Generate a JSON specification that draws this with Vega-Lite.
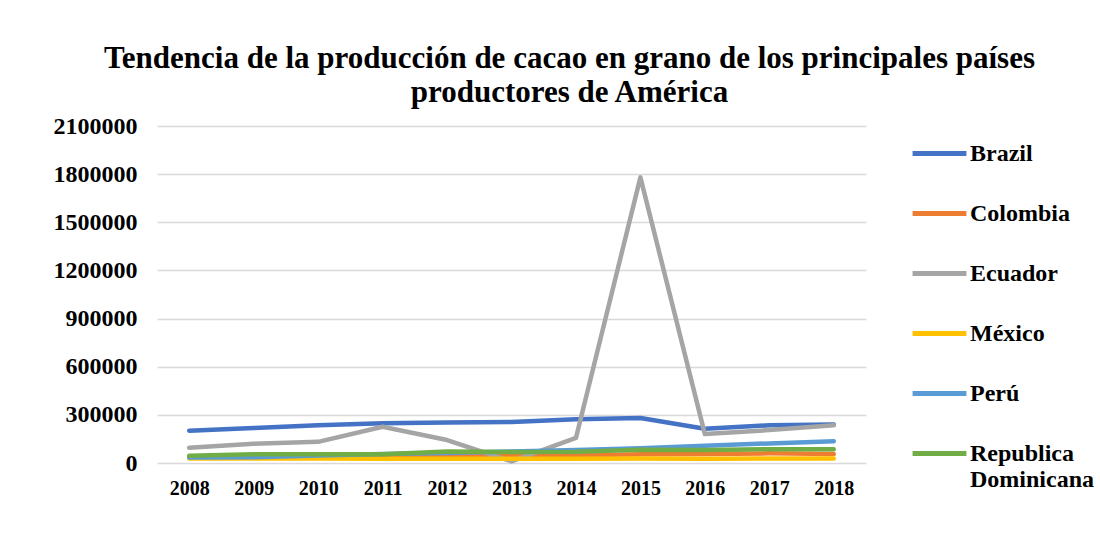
{
  "$schema": "https://vega.github.io/schema/vega-lite/v6.json",
  "width": 709,
  "height": 337,
  "autosize": {"type": "none"},
  "padding": {"left": 157, "top": 126, "right": 234, "bottom": 84},
  "background": "white",
  "title": {
    "text": ["Tendencia de la producción de cacao en grano de los principales países", "productores de América"],
    "font": "Liberation Serif",
    "fontSize": 31,
    "fontWeight": "bold",
    "color": "#000000",
    "lineHeight": 34,
    "anchor": "middle",
    "frame": "group",
    "dx": 58,
    "offset": 5
  },
  "data": {
    "values": [
      {"year": "2008", "country": "Brazil", "value": 201000},
      {"year": "2009", "country": "Brazil", "value": 218000},
      {"year": "2010", "country": "Brazil", "value": 235000},
      {"year": "2011", "country": "Brazil", "value": 248000},
      {"year": "2012", "country": "Brazil", "value": 253000},
      {"year": "2013", "country": "Brazil", "value": 256000},
      {"year": "2014", "country": "Brazil", "value": 273000},
      {"year": "2015", "country": "Brazil", "value": 280000},
      {"year": "2016", "country": "Brazil", "value": 214000},
      {"year": "2017", "country": "Brazil", "value": 235000},
      {"year": "2018", "country": "Brazil", "value": 240000},
      {"year": "2008", "country": "Colombia", "value": 37000},
      {"year": "2009", "country": "Colombia", "value": 40000},
      {"year": "2010", "country": "Colombia", "value": 40000},
      {"year": "2011", "country": "Colombia", "value": 37000},
      {"year": "2012", "country": "Colombia", "value": 42000},
      {"year": "2013", "country": "Colombia", "value": 46000},
      {"year": "2014", "country": "Colombia", "value": 47000},
      {"year": "2015", "country": "Colombia", "value": 54000},
      {"year": "2016", "country": "Colombia", "value": 56000},
      {"year": "2017", "country": "Colombia", "value": 60000},
      {"year": "2018", "country": "Colombia", "value": 56000},
      {"year": "2008", "country": "Ecuador", "value": 95000},
      {"year": "2009", "country": "Ecuador", "value": 120000},
      {"year": "2010", "country": "Ecuador", "value": 132000},
      {"year": "2011", "country": "Ecuador", "value": 226000},
      {"year": "2012", "country": "Ecuador", "value": 143000},
      {"year": "2013", "country": "Ecuador", "value": 10000},
      {"year": "2014", "country": "Ecuador", "value": 156000},
      {"year": "2015", "country": "Ecuador", "value": 1780000},
      {"year": "2016", "country": "Ecuador", "value": 180000},
      {"year": "2017", "country": "Ecuador", "value": 205000},
      {"year": "2018", "country": "Ecuador", "value": 235000},
      {"year": "2008", "country": "México", "value": 28000},
      {"year": "2009", "country": "México", "value": 28000},
      {"year": "2010", "country": "México", "value": 28000},
      {"year": "2011", "country": "México", "value": 27000},
      {"year": "2012", "country": "México", "value": 27000},
      {"year": "2013", "country": "México", "value": 27000},
      {"year": "2014", "country": "México", "value": 26000},
      {"year": "2015", "country": "México", "value": 28000},
      {"year": "2016", "country": "México", "value": 26000},
      {"year": "2017", "country": "México", "value": 28000},
      {"year": "2018", "country": "México", "value": 28000},
      {"year": "2008", "country": "Perú", "value": 34000},
      {"year": "2009", "country": "Perú", "value": 36000},
      {"year": "2010", "country": "Perú", "value": 46000},
      {"year": "2011", "country": "Perú", "value": 56000},
      {"year": "2012", "country": "Perú", "value": 62000},
      {"year": "2013", "country": "Perú", "value": 72000},
      {"year": "2014", "country": "Perú", "value": 81000},
      {"year": "2015", "country": "Perú", "value": 92000},
      {"year": "2016", "country": "Perú", "value": 108000},
      {"year": "2017", "country": "Perú", "value": 122000},
      {"year": "2018", "country": "Perú", "value": 135000},
      {"year": "2008", "country": "Republica Dominicana", "value": 45000},
      {"year": "2009", "country": "Republica Dominicana", "value": 55000},
      {"year": "2010", "country": "Republica Dominicana", "value": 54000},
      {"year": "2011", "country": "Republica Dominicana", "value": 55000},
      {"year": "2012", "country": "Republica Dominicana", "value": 72000},
      {"year": "2013", "country": "Republica Dominicana", "value": 68000},
      {"year": "2014", "country": "Republica Dominicana", "value": 70000},
      {"year": "2015", "country": "Republica Dominicana", "value": 82000},
      {"year": "2016", "country": "Republica Dominicana", "value": 81000},
      {"year": "2017", "country": "Republica Dominicana", "value": 86000},
      {"year": "2018", "country": "Republica Dominicana", "value": 85000}
    ]
  },
  "mark": {"type": "line", "strokeWidth": 4.5, "strokeCap": "round", "strokeJoin": "round"},
  "encoding": {
    "x": {
      "field": "year",
      "type": "ordinal",
      "scale": {"type": "point", "padding": 0.5},
      "axis": {
        "title": null,
        "domain": false,
        "ticks": false,
        "grid": false,
        "labelAngle": 0,
        "labelFont": "Liberation Serif",
        "labelFontWeight": "bold",
        "labelFontSize": 20,
        "labelColor": "#000000",
        "labelPadding": 15
      }
    },
    "y": {
      "field": "value",
      "type": "quantitative",
      "scale": {"domain": [0, 2100000], "nice": false},
      "axis": {
        "title": null,
        "values": [0, 300000, 600000, 900000, 1200000, 1500000, 1800000, 2100000],
        "format": "d",
        "domain": false,
        "ticks": false,
        "grid": true,
        "gridColor": "#d9d9d9",
        "gridWidth": 1.5,
        "labelFont": "Liberation Serif",
        "labelFontWeight": "bold",
        "labelFontSize": 24,
        "labelColor": "#000000",
        "labelPadding": 20
      }
    },
    "color": {
      "field": "country",
      "type": "nominal",
      "sort": ["Brazil", "Colombia", "Ecuador", "México", "Perú", "Republica Dominicana"],
      "scale": {
        "domain": ["Brazil", "Colombia", "Ecuador", "México", "Perú", "Republica Dominicana"],
        "range": ["#4472C4", "#ED7D31", "#A5A5A5", "#FFC000", "#5B9BD5", "#70AD47"]
      },
      "legend": {
        "title": null,
        "orient": "none",
        "legendX": 753,
        "legendY": -2,
        "padding": 0,
        "symbolType": "stroke",
        "symbolSize": 2900,
        "symbolStrokeWidth": 5,
        "labelFont": "Liberation Serif",
        "labelFontWeight": "bold",
        "labelFontSize": 24,
        "labelColor": "#000000",
        "labelOffset": 1,
        "labelLimit": 200,
        "rowPadding": 18,
        "labelExpr": "datum.label == 'Republica Dominicana' ? ['Republica', 'Dominicana'] : datum.label"
      }
    },
    "order": {"field": "year"}
  },
  "config": {"view": {"stroke": null}}
}
